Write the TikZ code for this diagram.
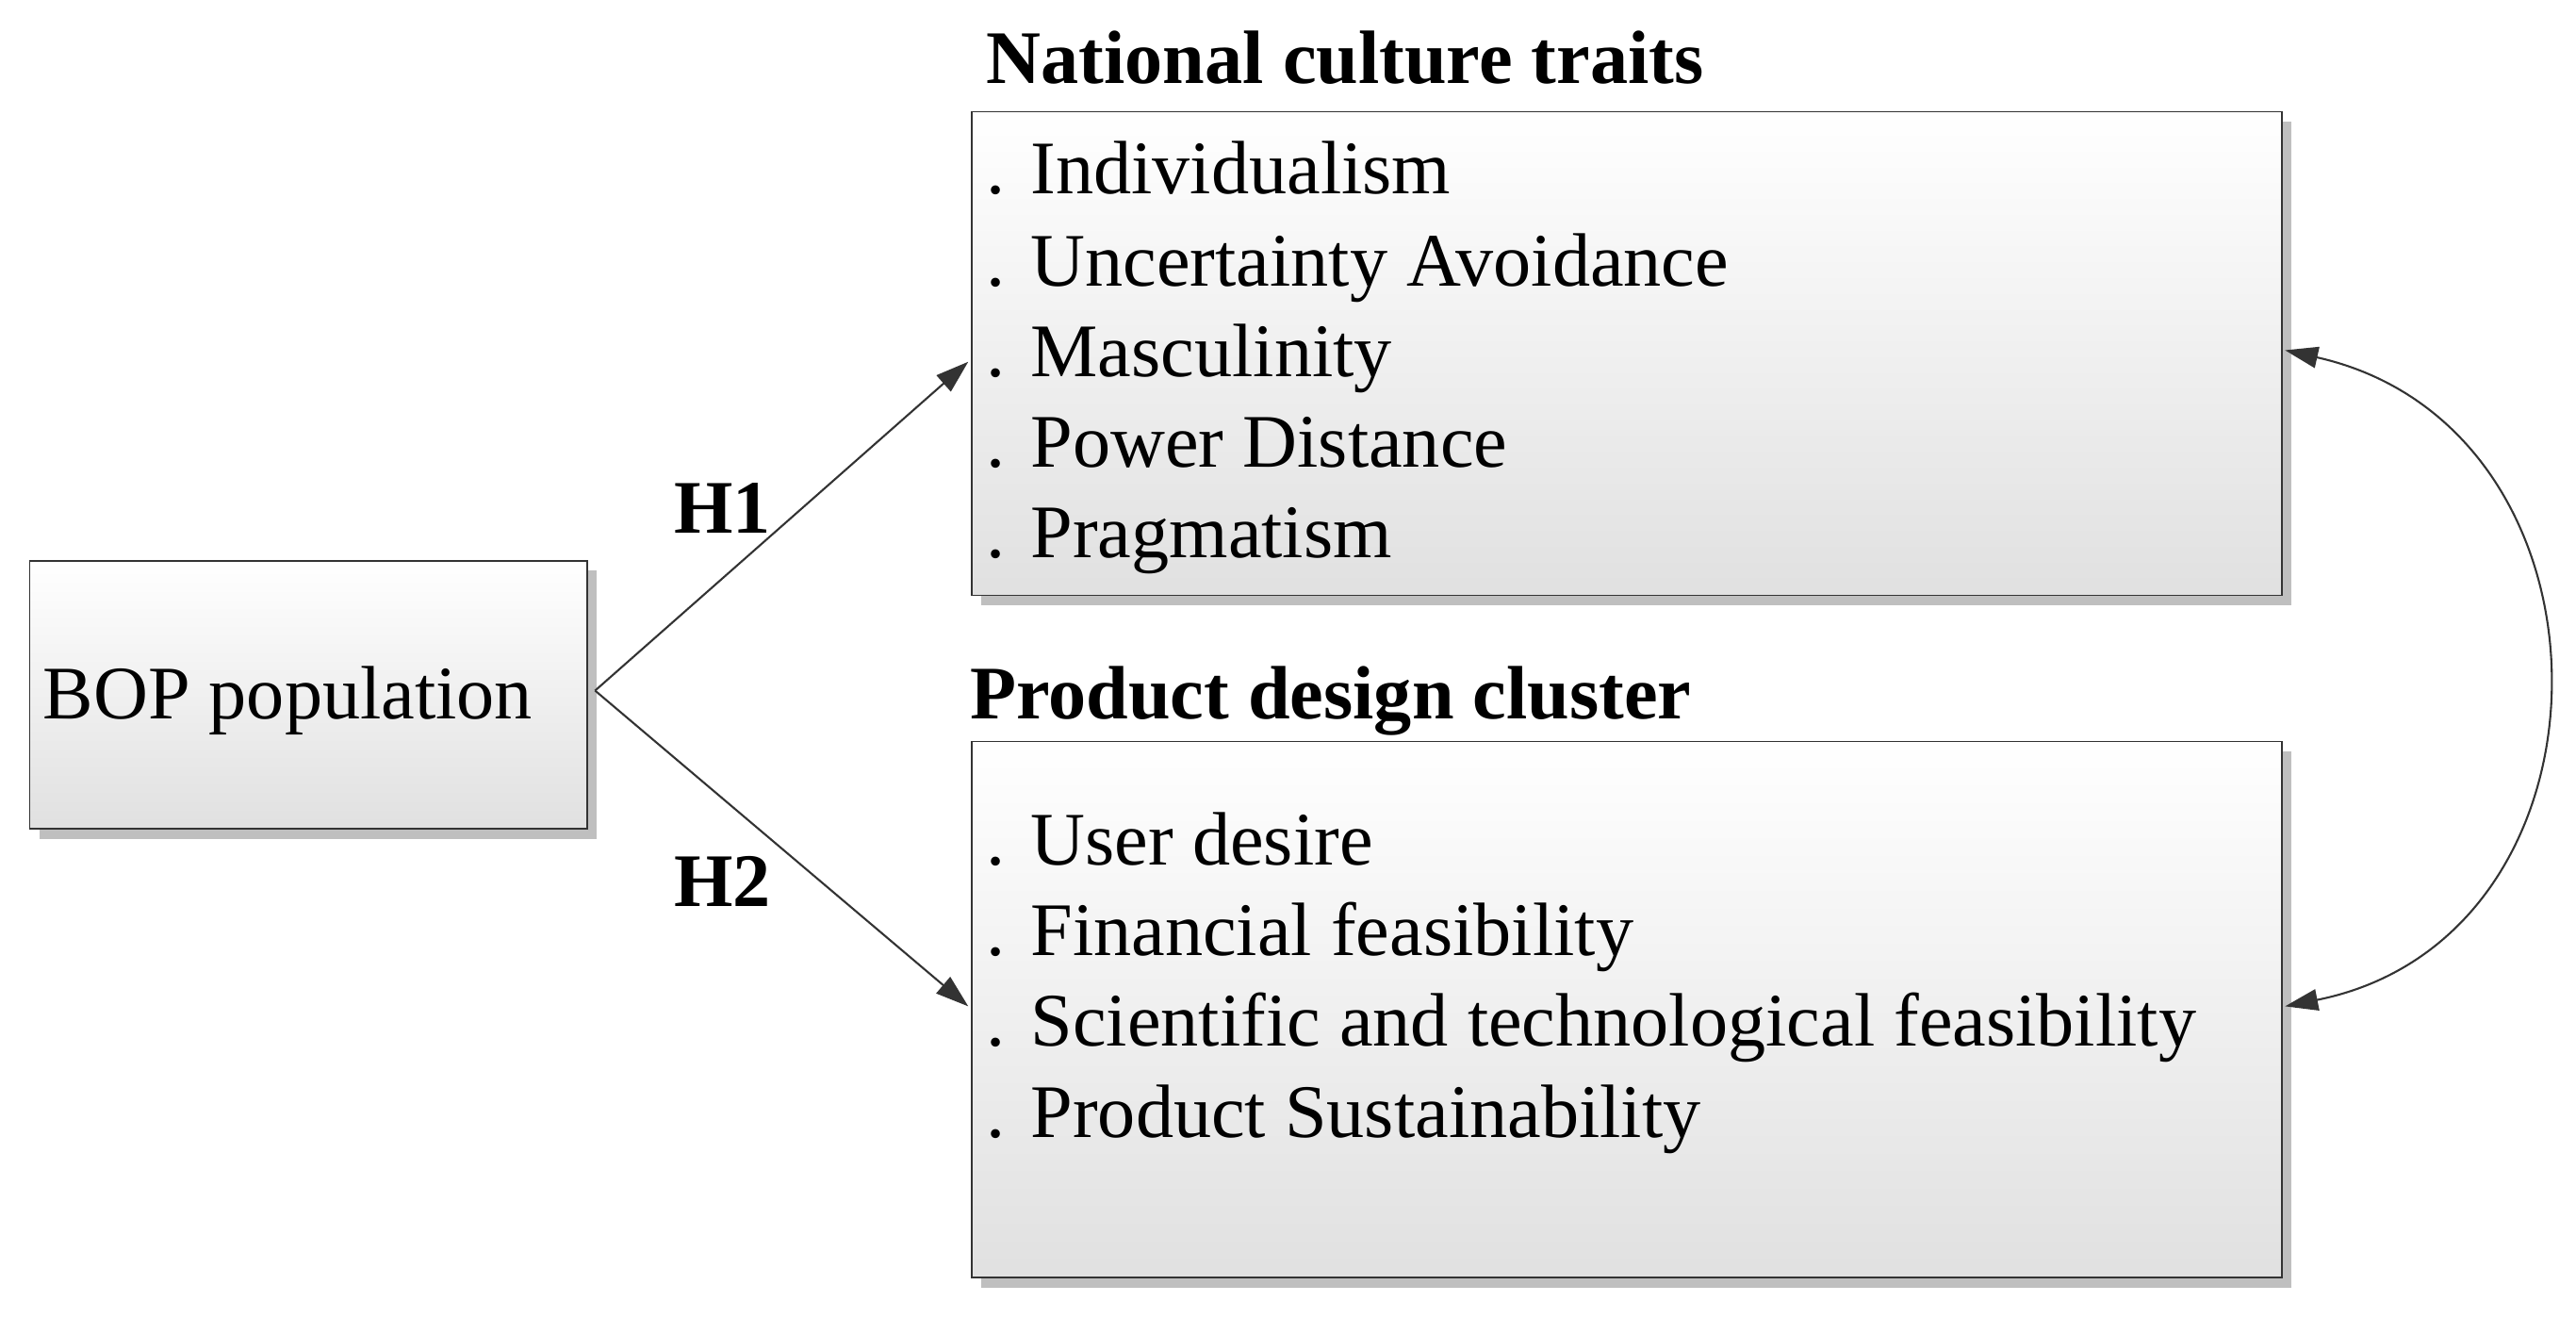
\documentclass[tikz,border=0pt]{standalone}
\usepackage{fontspec}
\setmainfont{Liberation Serif}
\usetikzlibrary{arrows.meta}
\begin{document}
\begin{tikzpicture}[x=1pt,y=-1pt,
  box/.style={draw=black!80,line width=1pt,top color=white,bottom color=black!12},
  shadowbox/.style={fill=black!25,draw=none},
  txt/.style={anchor=base west,inner sep=0pt,font=\fontsize{46}{52}\selectfont},
  ttl/.style={anchor=base west,inner sep=0pt,font=\fontsize{46}{52}\selectfont\bfseries},
  arr/.style={draw=black!80,line width=1.2pt,-{Triangle[length=20pt,width=13pt]}}]
\useasboundingbox (0,0) rectangle (1567,801);
\fill[shadowbox] (24,347) rectangle (363,510);
\fill[shadowbox] (597,74) rectangle (1394,368);
\fill[shadowbox] (597,457) rectangle (1394,783);
\path[box] (18,341) rectangle (357,504);
\path[box] (591,68) rectangle (1388,362);
\path[box] (591,451) rectangle (1388,777);
\node[txt] (bopt) at (26,437) {BOP population};
\node[ttl] (t1) at (600,51) {National culture traits};
\node[ttl] (t2) at (590,437) {Product design cluster};
\node[txt] (a1) at (600,118) {. Individualism};
\node[txt] (a2) at (600,174) {. Uncertainty Avoidance};
\node[txt] (a3) at (600,229) {. Masculinity};
\node[txt] (a4) at (600,284) {. Power Distance};
\node[txt] (a5) at (600,339) {. Pragmatism};
\node[txt] (b1) at (600,526) {. User desire};
\node[txt] (b2) at (600,581) {. Financial feasibility};
\node[txt] (b3) at (600,636) {. Scientific and technological feasibility};
\node[txt] (b4) at (600,692) {. Product Sustainability};
\coordinate (s) at (362,420);
\coordinate (e1) at (589,220);
\coordinate (e2) at (589,612);
\coordinate (r1) at (1390,213);
\coordinate (r2) at (1390,612);
\draw[arr] (s) -- (e1);
\draw[arr] (s) -- (e2);
\node[ttl] (h1) at (410,324) {H1};
\node[ttl] (h2) at (410,551) {H2};
\draw[draw=black!80,line width=1.2pt,{Triangle[length=20pt,width=13pt]}-{Triangle[length=20pt,width=13pt]}]
  (r1) .. controls (1600,260) and (1600,570) .. (r2);
\end{tikzpicture}
\end{document}
